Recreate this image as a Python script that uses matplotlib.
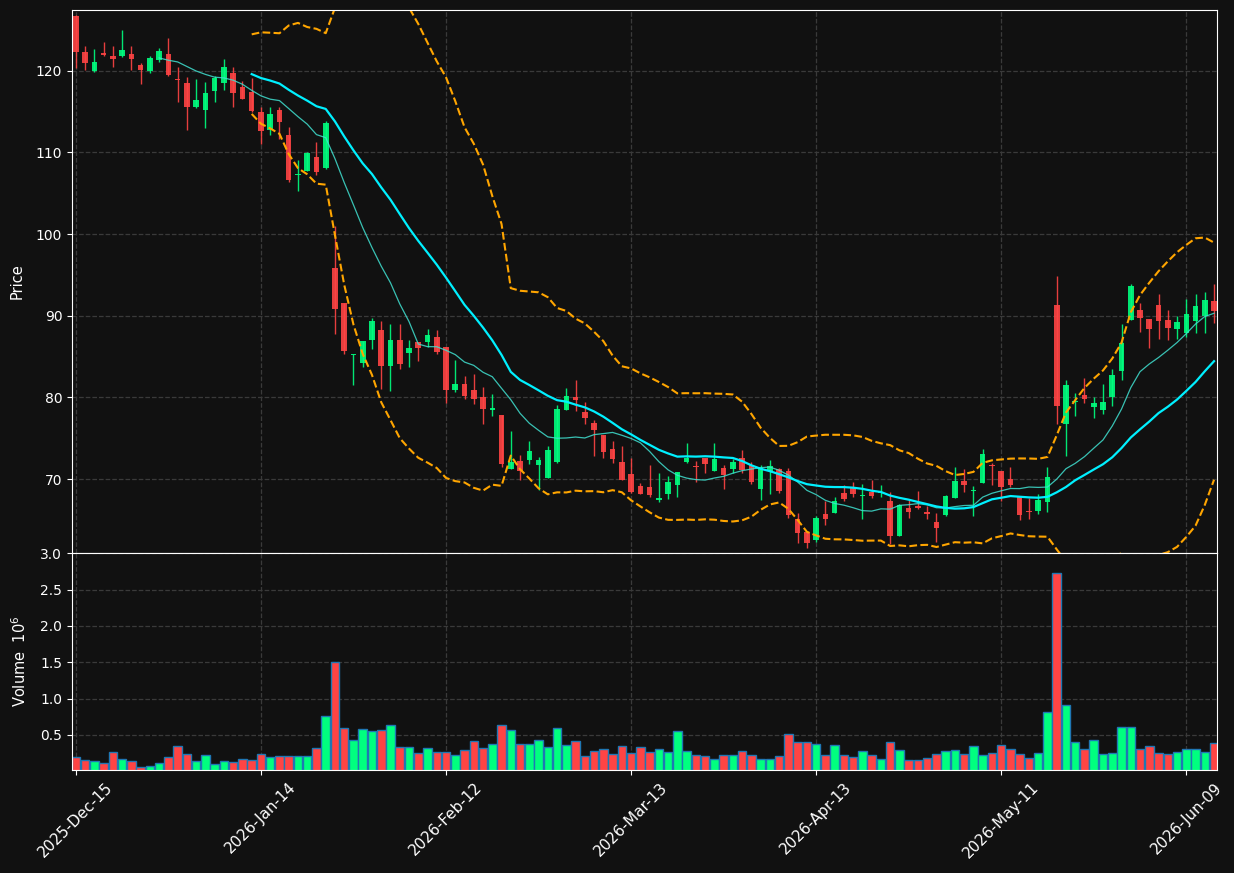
import numpy as np
import pandas as pd
import matplotlib
matplotlib.use('Agg')
import matplotlib.pyplot as plt

# OHLC (one value per trading day)
opens = [126.74, 122.33, 120.04, 122.21, 121.84, 121.76, 122.08, 120.74, 120.04, 121.27,
         122.08, 119.06, 118.53, 115.51, 115.26, 117.59, 118.45, 119.75, 118.04, 117.43,
         114.98, 112.81, 115.22, 112.16, 107.21, 107.79, 109.46, 108.11, 95.86, 91.57,
         85.24, 84.26, 87.07, 88.26, 83.89, 87.03, 85.48, 86.79, 86.79, 87.40,
         86.17, 80.91, 81.64, 80.91, 80.05, 78.42, 77.84, 71.27, 72.21, 72.33,
         71.76, 70.12, 72.09, 78.50, 80.05, 78.21, 76.90, 75.39, 73.67, 72.09,
         70.61, 69.14, 68.98, 67.39, 68.21, 69.31, 72.09, 71.60, 72.57, 71.02,
         71.35, 71.23, 72.57, 71.72, 68.82, 71.02, 71.27, 70.98, 65.06, 63.51,
         62.57, 65.71, 65.88, 68.29, 69.06, 67.96, 68.41, 68.29, 67.31, 63.06,
         66.49, 66.74, 65.96, 64.73, 65.63, 67.72, 69.76, 68.53, 69.55, 71.68,
         70.98, 70.00, 67.80, 66.04, 66.12, 67.23, 91.28, 76.78, 79.48, 80.29,
         78.87, 78.46, 80.09, 83.28, 89.53, 90.71, 89.61, 91.32, 89.44, 88.42,
         87.93, 89.40, 90.02, 91.77]
highs = [126.80, 123.02, 122.65, 123.55, 123.02, 124.98, 123.02, 120.94, 121.80, 122.78,
         124.00, 120.53, 119.22, 119.02, 118.65, 119.35, 121.47, 120.45, 118.73, 119.10,
         115.55, 115.55, 115.63, 113.15, 109.05, 110.00, 111.30, 113.83, 100.97, 91.60,
         85.35, 86.95, 89.77, 89.32, 89.00, 89.00, 87.03, 86.80, 88.38, 88.22,
         86.20, 84.54, 82.58, 82.82, 81.27, 80.42, 77.90, 75.84, 72.94, 74.61,
         72.70, 74.04, 79.03, 81.15, 82.13, 79.40, 77.19, 75.40, 74.61, 74.00,
         72.61, 69.47, 71.72, 70.69, 70.41, 70.90, 74.37, 72.17, 72.60, 74.37,
         71.72, 72.41, 73.51, 72.09, 71.72, 72.29, 71.30, 71.39, 65.80, 63.55,
         65.47, 67.27, 67.80, 69.22, 69.59, 69.35, 69.88, 69.27, 68.45, 66.90,
         67.47, 68.53, 66.70, 65.80, 68.04, 71.43, 71.19, 69.10, 73.63, 72.00,
         71.00, 71.43, 67.85, 67.63, 68.13, 71.43, 94.84, 82.13, 80.50, 82.33,
         80.05, 81.60, 83.44, 89.04, 93.90, 91.53, 89.65, 92.63, 90.75, 89.94,
         92.02, 92.63, 92.88, 93.94]
lows = [120.37, 120.16, 119.84, 121.80, 120.53, 121.70, 120.16, 118.33, 119.71, 121.14,
        119.40, 116.24, 112.81, 115.45, 112.98, 116.16, 117.63, 115.55, 116.55, 114.98,
        111.09, 112.12, 111.59, 106.40, 105.25, 107.75, 107.21, 107.99, 87.73, 85.28,
        81.48, 83.77, 85.97, 80.99, 80.75, 83.44, 83.77, 84.42, 86.21, 85.36,
        79.36, 80.62, 79.85, 79.24, 76.78, 77.76, 71.51, 71.20, 69.92, 71.80,
        68.61, 70.10, 72.00, 78.45, 78.38, 76.70, 72.86, 72.53, 71.92, 69.90,
        68.33, 68.13, 67.84, 67.14, 67.51, 67.76, 71.92, 69.59, 70.69, 71.00,
        68.82, 70.69, 70.69, 69.43, 67.39, 68.13, 68.29, 65.26, 62.20, 61.59,
        62.33, 64.32, 65.80, 67.35, 67.76, 65.06, 67.63, 67.84, 62.00, 63.00,
        65.26, 66.29, 65.14, 62.33, 65.51, 67.70, 68.37, 65.51, 69.50, 69.22,
        67.35, 69.02, 64.94, 65.14, 65.67, 66.00, 76.70, 72.86, 77.76, 79.28,
        77.43, 77.92, 78.91, 82.09, 89.50, 88.06, 86.01, 87.11, 87.03, 87.11,
        87.36, 87.85, 87.85, 89.08]
closes = [122.25, 120.90, 121.10, 121.96, 121.47, 122.53, 121.39, 120.16, 121.59, 122.45,
          119.43, 118.82, 115.51, 116.45, 117.30, 119.14, 120.49, 117.34, 116.61, 115.02,
          112.69, 114.73, 113.79, 106.68, 107.41, 109.95, 107.66, 113.63, 90.83, 85.73,
          85.32, 86.91, 89.36, 83.89, 87.03, 84.14, 86.05, 86.09, 87.64, 85.60,
          80.95, 81.64, 80.21, 79.85, 78.58, 78.70, 71.88, 72.09, 71.02, 73.39,
          72.33, 73.55, 78.58, 80.17, 79.73, 77.52, 76.00, 73.35, 72.45, 69.92,
          68.45, 68.21, 68.04, 67.67, 69.63, 70.86, 72.57, 71.47, 71.88, 72.45,
          70.49, 72.09, 71.15, 69.63, 71.35, 71.60, 68.57, 65.63, 63.42, 62.20,
          65.22, 65.14, 67.31, 67.55, 68.21, 68.04, 67.96, 68.41, 63.06, 66.86,
          66.00, 66.49, 65.75, 64.04, 67.88, 69.76, 69.31, 68.70, 73.02, 71.60,
          69.02, 69.31, 65.63, 65.96, 67.43, 70.20, 78.99, 81.48, 79.60, 79.81,
          79.32, 79.44, 82.74, 86.67, 93.65, 89.77, 88.42, 89.40, 88.54, 89.24,
          90.22, 91.20, 91.94, 90.63]
# volume in millions
volumes = [0.197, 0.156, 0.142, 0.114, 0.266, 0.169, 0.142, 0.055, 0.068, 0.114,
           0.197, 0.348, 0.238, 0.142, 0.225, 0.100, 0.142, 0.128, 0.169, 0.156,
           0.238, 0.197, 0.211, 0.211, 0.211, 0.211, 0.321, 0.762, 1.506, 0.596,
           0.431, 0.583, 0.555, 0.569, 0.638, 0.335, 0.335, 0.252, 0.321, 0.266,
           0.266, 0.225, 0.293, 0.417, 0.321, 0.376, 0.638, 0.569, 0.376, 0.376,
           0.431, 0.335, 0.596, 0.362, 0.417, 0.211, 0.280, 0.307, 0.238, 0.348,
           0.252, 0.335, 0.266, 0.307, 0.266, 0.555, 0.280, 0.225, 0.211, 0.169,
           0.225, 0.225, 0.280, 0.225, 0.169, 0.169, 0.211, 0.514, 0.404, 0.404,
           0.376, 0.225, 0.362, 0.225, 0.197, 0.280, 0.225, 0.169, 0.404, 0.293,
           0.156, 0.156, 0.183, 0.238, 0.280, 0.293, 0.238, 0.348, 0.225, 0.252,
           0.362, 0.307, 0.238, 0.183, 0.252, 0.817, 2.731, 0.913, 0.404, 0.307,
           0.431, 0.238, 0.252, 0.610, 0.610, 0.307, 0.348, 0.252, 0.238, 0.266,
           0.307, 0.307, 0.266, 0.390]

holidays = ['2025-12-25', '2026-01-01', '2026-01-19', '2026-02-16', '2026-04-03', '2026-05-25']
dates = pd.bdate_range('2025-12-15', periods=len(closes), freq='C', holidays=holidays)

df = pd.DataFrame({'Open': opens, 'High': highs, 'Low': lows, 'Close': closes,
                   'Volume': volumes}, index=dates)

# indicators
sma10 = df['Close'].rolling(10).mean()
sma20 = df['Close'].rolling(20).mean()
std20 = df['Close'].rolling(20).std()
bb_up = sma20 + 2 * std20
bb_lo = sma20 - 2 * std20

bg = '#111111'
up_col = '#00ff7f'
down_col = '#ff4444'

x = np.arange(len(df))
is_up = df['Close'].values >= df['Open'].values
cols = np.where(is_up, up_col, down_col)

fig = plt.figure(figsize=(12.34, 8.73), dpi=100, facecolor=bg)
ax = fig.add_axes([72 / 1234, 1 - 553 / 873, 1145 / 1234, 543 / 873])
axv = fig.add_axes([72 / 1234, 1 - 770 / 873, 1145 / 1234, 217 / 873], sharex=ax)

for a in (ax, axv):
    a.set_facecolor(bg)
    for s in a.spines.values():
        s.set_color('white')
    a.tick_params(colors='white', labelsize=10)
    a.grid(True, linestyle='--', color='#3a3a3a', linewidth=0.9)
    a.set_axisbelow(True)

# candles
body_lo = np.minimum(df['Open'], df['Close'])
body_h = np.maximum(np.abs(df['Close'] - df['Open']), 0.1)
ax.vlines(x, df['Low'], df['High'], colors=cols, linewidth=1, alpha=0.9)
ax.bar(x, body_h, bottom=body_lo, width=0.6, color=cols, alpha=0.9, linewidth=0)

ax.plot(x, sma10, color='#40e0d0', linewidth=0.9, alpha=0.85)
ax.plot(x, sma20, color='#00f0ff', linewidth=1.6)
ax.plot(x, bb_up, color='#ffa500', linewidth=1.5, linestyle='--')
ax.plot(x, bb_lo, color='#ffa500', linewidth=1.5, linestyle='--')

rng = df['High'].max() - df['Low'].min()
ax.set_ylim(df['Low'].min() - 0.01 * rng, df['High'].max() + 0.01 * rng)
ax.set_xlim(-0.42, len(df) - 0.68)
ax.set_yticks([70, 80, 90, 100, 110, 120])
ax.set_ylabel('Price', color='white', fontsize=10.5, labelpad=8)
ax.tick_params(axis='x', labelbottom=False, length=0)

# volume
axv.bar(x, df['Volume'], width=0.92, color=cols, edgecolor='#1f77b4', linewidth=1)
axv.set_ylim(0.3 * df['Volume'].min(), 1.1 * df['Volume'].max())
axv.set_yticks([0.5, 1.0, 1.5, 2.0, 2.5, 3.0])
axv.set_yticklabels(['0.5', '1.0', '1.5', '2.0', '2.5', '3.0'])
axv.set_ylabel('Volume  $10^6$', color='white', fontsize=10.5, labelpad=8)

tick_pos = x[::20]
axv.set_xticks(tick_pos)
axv.set_xticklabels([d.strftime('%Y-%b-%d') for d in dates[::20]],
                    rotation=45, ha='center', fontsize=11)

fig.savefig('out.png', dpi=100, facecolor=bg)
